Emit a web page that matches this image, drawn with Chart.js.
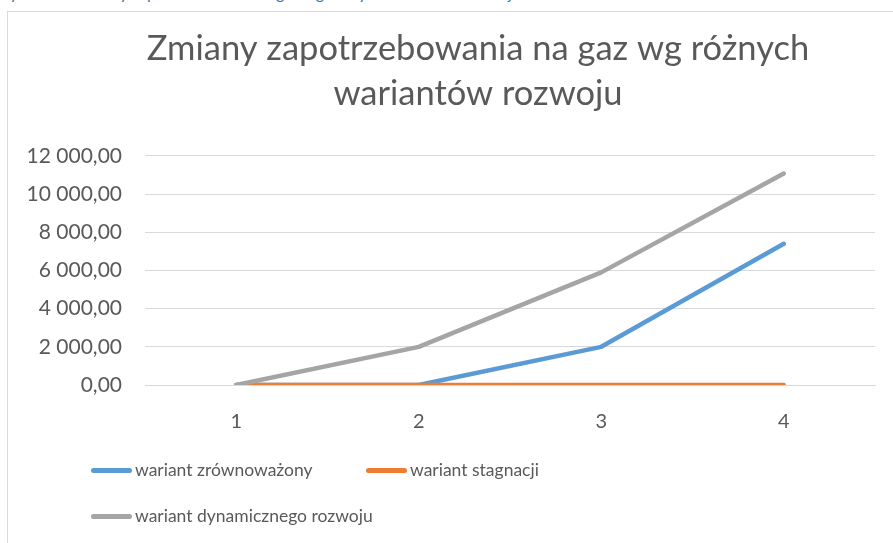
<!DOCTYPE html>
<html>
<head>
<meta charset="utf-8">
<script src="https://cdn.jsdelivr.net/npm/chart.js@4"></script>
<style>
  body { margin: 0; background: #fff; overflow: hidden; width: 893px; height: 543px; position: relative; font-family: Lato, sans-serif; }
  #caption { position: absolute; left: 0; top: -17px; font-size: 16px; color: #2E74B5; white-space: nowrap; }
  #frame { position: absolute; left: 7px; top: 11px; width: 960px; height: 560px; border: 1px solid #d9d9d9; }
  #wrap { position: absolute; left: 8px; top: 11px; width: 940px; height: 532px; }
  .lg { position: absolute; font-size: 17.5px; color: #595959; white-space: nowrap; }
  .lg i { display: inline-block; width: 41px; height: 4.5px; border-radius: 3px; vertical-align: middle; margin-right: 3px; position: relative; top: -1px; }
</style>
</head>
<body>
<div id="caption">Rysunek 5 Zmiany zapotrzebowania na gaz wg różnych wariantów rozwoju</div>
<div id="frame"></div>
<div id="wrap"><canvas id="gas-chart"></canvas></div>
<div id="legend"></div>
<script>
var categories = ['1', '2', '3', '4']
var zrownowazony = [0, 0, 2000, 7400]
var stagnacji = [0, 0, 0, 0]
var dynamicznego = [0, 2000, 5900, 11080]
var yTicks = [0, 2000, 4000, 6000, 8000, 10000, 12000]

function fmt(v) {
  var s = Math.round(v).toString().replace(/\B(?=(\d{3})+(?!\d))/g, ' ')
  return s + ',00'
}

var series = [
  { label: 'wariant zrównoważony', data: zrownowazony, color: '#5B9BD5', order: 3 },
  { label: 'wariant stagnacji', data: stagnacji, color: '#ED7D31', order: 2 },
  { label: 'wariant dynamicznego rozwoju', data: dynamicznego, color: '#A5A5A5', order: 1 }
]

// y labels stick out left of the narrow axis box, so widen its clip area after layout
var labelRoom = {
  id: 'labelRoom',
  afterLayout: function (c) { c.scales.y.left = 0 }
}

var ctx = document.getElementById('gas-chart')
var chart = new Chart(ctx, {
  type: 'line',
  data: {
    labels: categories,
    datasets: series.map(function (s) {
      return {
        label: s.label,
        data: s.data,
        borderColor: s.color,
        backgroundColor: s.color,
        borderWidth: 4.5,
        borderCapStyle: 'round',
        borderJoinStyle: 'round',
        pointRadius: 0,
        tension: 0,
        order: s.order
      }
    })
  },
  options: {
    responsive: true,
    maintainAspectRatio: false,
    animation: false,
    layout: { padding: { left: 73, right: 73, top: 0, bottom: 108 } },
    plugins: {
      legend: { display: false },
      tooltip: { enabled: false },
      title: {
        display: true,
        text: ['Zmiany zapotrzebowania na gaz wg różnych', 'wariantów rozwoju'],
        color: '#595959',
        font: { family: 'Lato', size: 34.5, weight: 'normal', lineHeight: 1.304 },
        padding: { top: 15, bottom: 40 }
      }
    },
    scales: {
      x: {
        offset: true,
        grid: { display: false },
        border: { display: true, color: '#d9d9d9', width: 1 },
        ticks: { color: '#595959', font: { family: 'Lato', size: 20 }, padding: 17 },
        afterFit: function (scale) { scale.height = 50 }
      },
      y: {
        min: 0,
        max: 12000,
        afterBuildTicks: function (scale) { scale.ticks = yTicks.map(function (v) { return { value: v } }) },
        grid: { color: '#d9d9d9', lineWidth: 1, drawTicks: false },
        border: { display: false },
        ticks: {
          color: '#595959',
          font: { family: 'Lato', size: 21 },
          padding: 23,
          callback: function (v) { return fmt(v) }
        },
        afterFit: function (scale) { scale.width = 64 }
      }
    }
  },
  plugins: [labelRoom]
})

// legend in the same layout as the original (two items, then one)
var legendPos = [[91, 459], [366, 459], [91, 505]]
var legend = document.getElementById('legend')
series.forEach(function (s, i) {
  var d = document.createElement('div')
  d.className = 'lg'
  d.style.left = legendPos[i][0] + 'px'
  d.style.top = legendPos[i][1] + 'px'
  d.innerHTML = '<i style="background:' + s.color + '"></i>' + s.label
  legend.appendChild(d)
})
</script>
</body>
</html>
